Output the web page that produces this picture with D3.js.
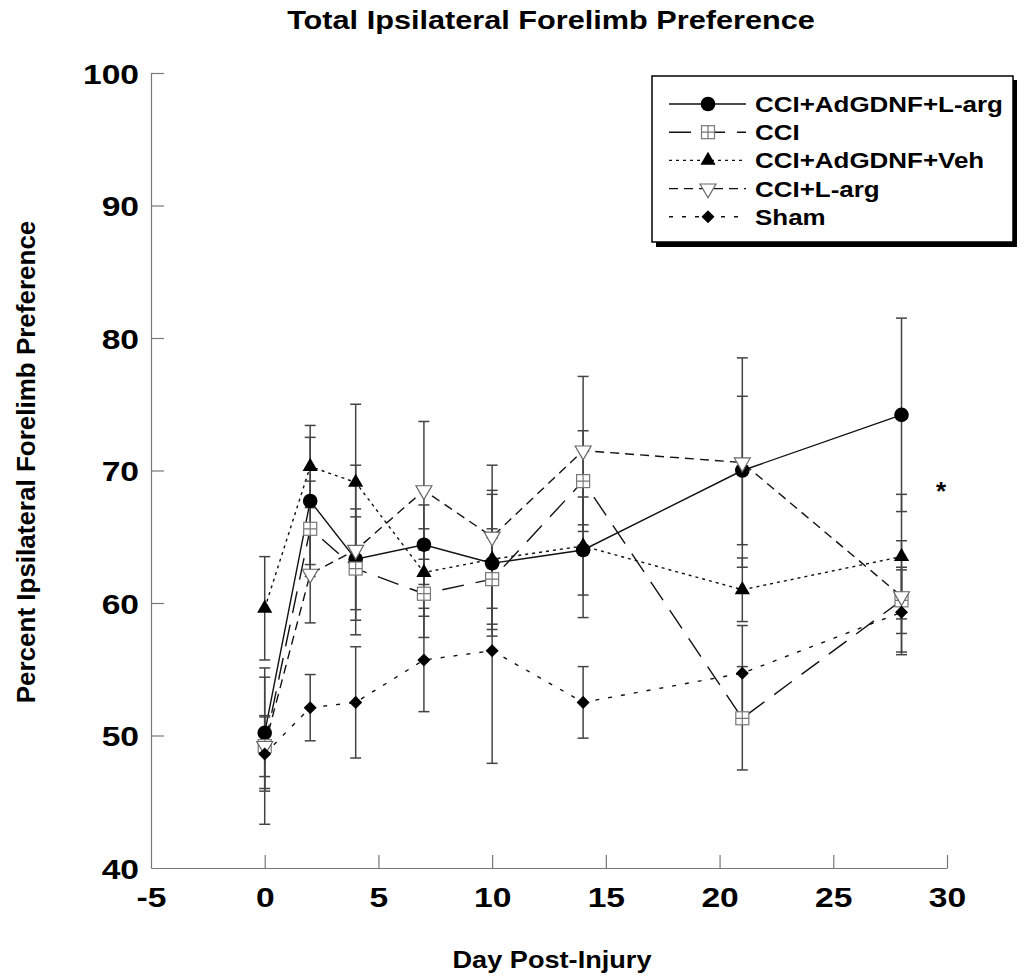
<!DOCTYPE html>
<html>
<head>
<meta charset="utf-8">
<script src="https://cdn.jsdelivr.net/npm/d3@7"></script>
<style>
  body { margin: 0; background: #fff; }
  svg { display: block; font-family: "Liberation Sans", Arial, sans-serif; font-weight: bold; }
</style>
</head>
<body>
<svg id="chart" width="1024" height="977"></svg>
<script>
// data (mean and SEM per day)
const days = [0, 2, 4, 7, 10, 14, 21, 28];

const gdnfLarg     = [50.2, 67.7, 63.3, 64.4, 63.0, 64.0, 70.0, 74.2];
const gdnfLargSem  = [4.2, 4.8, 3.8, 3.0, 5.5, 5.1, 5.6, 7.3];

const cci          = [49.2, 65.6, 62.6, 60.7, 61.8, 69.2, 51.3, 60.2];
const cciSem       = [2.3, 3.6, 3.9, 3.3, 3.8, 3.8, 3.9, 2.5];

const gdnfVeh      = [59.6, 70.3, 69.1, 62.3, 63.3, 64.3, 61.0, 63.5];
const gdnfVehSem   = [3.9, 3.1, 5.9, 3.3, 4.9, 3.7, 2.4, 4.7];

const cciLarg      = [49.2, 62.2, 64.0, 68.5, 65.0, 71.5, 70.6, 60.5];
const cciLargSem   = [5.9, 3.7, 6.4, 5.2, 5.4, 5.6, 7.9, 4.2];

const sham         = [48.6, 52.1, 52.5, 55.7, 56.4, 52.5, 54.7, 59.3];
const shamSem      = [2.8, 2.5, 4.2, 3.9, 8.5, 2.7, 3.6, 3.2];

const xTicks = [-5, 0, 5, 10, 15, 20, 25, 30];
const yTicks = [40, 50, 60, 70, 80, 90, 100];

const series = [
    { name: "CCI+AdGDNF+L-arg", mean: gdnfLarg, sem: gdnfLargSem, dash: null,   marker: "circle" },
    { name: "CCI",              mean: cci,      sem: cciSem,      dash: "22,12", marker: "boxcross" },
    { name: "CCI+AdGDNF+Veh",   mean: gdnfVeh,  sem: gdnfVehSem,  dash: "3,4",   marker: "triangle" },
    { name: "CCI+L-arg",        mean: cciLarg,  sem: cciLargSem,  dash: "9,6",   marker: "invtriangle" },
    { name: "Sham",             mean: sham,     sem: shamSem,     dash: "4,9",   marker: "diamond" }
];

const svg = d3.select("#chart");

const x = d3.scaleLinear().domain([-5, 30]).range([151, 947]);
const y = d3.scaleLinear().domain([40, 100]).range([868, 73]);

// title
svg.append("text")
    .attr("transform", "translate(551,29) scale(1.18,1)")
    .attr("text-anchor", "middle")
    .attr("font-size", "26px")
    .text("Total Ipsilateral Forelimb Preference");

// axes (ticks point inward)
const axisColor = "#777";
const yAxis = svg.append("g")
    .attr("transform", `translate(${x(-5)},0)`)
    .call(d3.axisLeft(y).tickValues(yTicks).tickSize(-13).tickSizeOuter(0).tickFormat(d => String(d)));
const xAxis = svg.append("g")
    .attr("transform", `translate(0,${y(40)})`)
    .call(d3.axisBottom(x).tickValues(xTicks).tickSize(-13).tickSizeOuter(0).tickFormat(d => String(d)));

[yAxis, xAxis].forEach(a => {
    a.select(".domain").attr("stroke", axisColor).attr("stroke-width", 1.2);
    a.selectAll(".tick line").attr("stroke", axisColor).attr("stroke-width", 1.2);
    a.selectAll(".tick text")
        .attr("fill", "#000")
        .attr("font-size", "28px")
        .attr("font-family", "Liberation Sans, Arial, sans-serif")
        .attr("font-weight", "bold");
});
yAxis.selectAll(".tick text")
    .attr("x", null).attr("dy", null)
    .attr("transform", "translate(-12,10) scale(1.2,1)");
xAxis.selectAll(".tick text")
    .attr("y", null).attr("dy", null)
    .attr("transform", "translate(0,39) scale(1.2,1)");
// the corner ticks sit on the axis lines
yAxis.selectAll(".tick line").filter(d => d === 40).remove();
xAxis.selectAll(".tick line").filter(d => d === -5).remove();

// axis titles
svg.append("text")
    .attr("transform", "translate(552,968) scale(1.18,1)")
    .attr("text-anchor", "middle")
    .attr("font-size", "23px")
    .text("Day Post-Injury");

svg.append("text")
    .attr("transform", "translate(35,462) rotate(-90)")
    .attr("text-anchor", "middle")
    .attr("font-size", "26px")
    .text("Percent Ipsilateral Forelimb Preference");

// marker drawing
function drawMarker(g, type) {
    if (type === "circle") {
        g.append("circle").attr("r", 7.3).attr("fill", "#000");
    } else if (type === "boxcross") {
        g.append("rect").attr("x", -6.5).attr("y", -6.5).attr("width", 13).attr("height", 13)
            .attr("fill", "#fff").attr("stroke", "#777").attr("stroke-width", 1.2);
        g.append("path").attr("d", "M0,-6.5V6.5M-6.5,0H6.5")
            .attr("stroke", "#777").attr("stroke-width", 1.2);
    } else if (type === "triangle") {
        g.append("path").attr("d", d3.symbol(d3.symbolTriangle, 100)()).attr("fill", "#000");
    } else if (type === "invtriangle") {
        g.append("path").attr("d", d3.symbol(d3.symbolTriangle, 110)())
            .attr("transform", "rotate(180)")
            .attr("fill", "#fff").attr("stroke", "#666").attr("stroke-width", 1.2);
    } else if (type === "diamond") {
        g.append("path").attr("d", d3.symbol(d3.symbolSquare, 85)())
            .attr("transform", "rotate(45)")
            .attr("fill", "#000");
    }
}

const line = d3.line().x(d => x(d[0])).y(d => y(d[1]));

const plot = svg.append("g");

// connecting lines
series.forEach(s => {
    plot.append("path")
        .datum(days.map((d, i) => [d, s.mean[i]]))
        .attr("d", line)
        .attr("fill", "none")
        .attr("stroke", "#111")
        .attr("stroke-width", 1.4)
        .attr("stroke-dasharray", s.dash);
});

// error bars
series.forEach(s => {
    const eb = plot.append("g").selectAll("g")
        .data(days.map((d, i) => ({ day: d, lo: s.mean[i] - s.sem[i], hi: s.mean[i] + s.sem[i] })))
        .enter().append("g")
        .attr("stroke", "#444")
        .attr("stroke-width", 1.5);
    eb.append("line")
        .attr("x1", d => x(d.day)).attr("x2", d => x(d.day))
        .attr("y1", d => y(d.lo)).attr("y2", d => y(d.hi));
    eb.append("line")
        .attr("x1", d => x(d.day) - 5.5).attr("x2", d => x(d.day) + 5.5)
        .attr("y1", d => y(d.hi)).attr("y2", d => y(d.hi));
    eb.append("line")
        .attr("x1", d => x(d.day) - 5.5).attr("x2", d => x(d.day) + 5.5)
        .attr("y1", d => y(d.lo)).attr("y2", d => y(d.lo));
});

// markers
series.forEach(s => {
    days.forEach((d, i) => {
        const g = plot.append("g").attr("transform", `translate(${x(d)},${y(s.mean[i])})`);
        drawMarker(g, s.marker);
    });
});

// significance mark
svg.append("text")
    .attr("x", 941).attr("y", 500)
    .attr("text-anchor", "middle")
    .attr("font-size", "26px")
    .text("*");

// legend
const legend = svg.append("g");
legend.append("rect")
    .attr("x", 656).attr("y", 80).attr("width", 361).attr("height", 167)
    .attr("fill", "#000");
legend.append("rect")
    .attr("x", 652).attr("y", 76).attr("width", 361).attr("height", 166)
    .attr("fill", "#fff").attr("stroke", "#000").attr("stroke-width", 1.5);

const rows = legend.selectAll("g.row")
    .data(series)
    .enter().append("g")
    .attr("class", "row")
    .attr("transform", (d, i) => `translate(0,${104 + i * 28.2})`);

rows.append("line")
    .attr("x1", 669).attr("x2", 746)
    .attr("stroke", "#111").attr("stroke-width", 1.4)
    .attr("stroke-dasharray", d => d.dash);

rows.each(function(d) {
    const g = d3.select(this).append("g").attr("transform", "translate(708,0)");
    drawMarker(g, d.marker);
});

rows.append("text")
    .attr("transform", "translate(755,8) scale(1.18,1)")
    .attr("font-size", "22px")
    .text(d => d.name);
</script>
</body>
</html>
